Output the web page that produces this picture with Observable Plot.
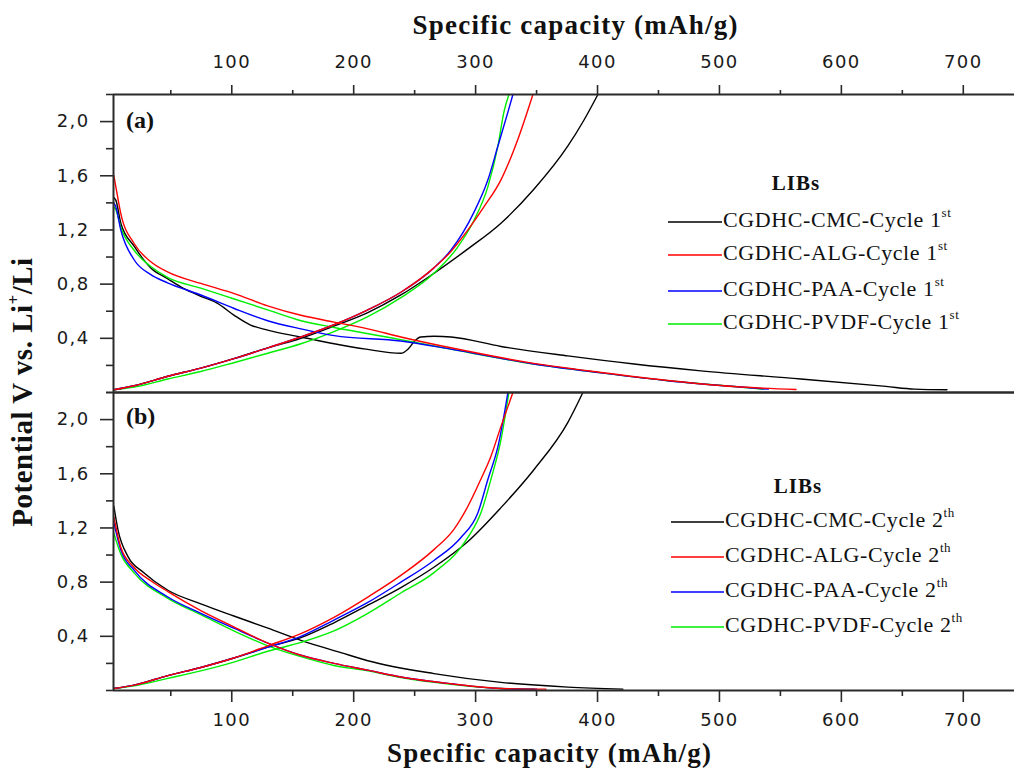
<!DOCTYPE html>
<html>
<head>
<meta charset="utf-8">
<script src="https://cdn.jsdelivr.net/npm/d3@7"></script>
<script src="https://cdn.jsdelivr.net/npm/@observablehq/plot@0.6"></script>
<style>
  html, body { margin: 0; padding: 0; background: #fff; }
  g[aria-label$="tick label"] text { letter-spacing: 1.4px; }
</style>
</head>
<body>
<div id="chart"></div>
<script>
// ---------------- DATA (x: specific capacity mAh/g, y: potential V) ----------------
const seriesNames = ["CMC", "ALG", "PAA", "PVDF"];
const seriesColors = ["#000000", "#ff0000", "#0000ff", "#00ee00"];
const xTicks = [100, 200, 300, 400, 500, 600, 700];
const xMinorTicks = [50, 150, 250, 350, 450, 550, 650];
const yTicks = [0.4, 0.8, 1.2, 1.6, 2.0];
const yMinorTicks = [0, 0.2, 0.6, 1.0, 1.4, 1.8, 2.2];
const panelLabels = ["(a)", "(b)"];
const cycleNums = ["1", "2"];
const cycleSups = ["st", "th"];

// Panel (a) - cycle 1, discharge
const a_CMC_dis = [[3.3,1.44],[4.9,1.42],[9,1.25],[19.9,1.08],[33.6,0.92],[47.3,0.84],[60,0.77],[74.6,0.71],[88,0.66],[102,0.57],[115,0.50],[129.4,0.46],[156.7,0.41],[184,0.36],[210,0.32],[238.7,0.29],[244.5,0.32],[250,0.38],[255,0.41],[266,0.415],[280,0.41],[320.8,0.34],[375.7,0.27],[430,0.21],[484.8,0.16],[566.8,0.10],[636.6,0.045],[660,0.025],[686.6,0.02]];
const a_ALG_dis = [[3.3,1.60],[4.9,1.52],[9,1.32],[19.9,1.10],[33.6,0.965],[47.3,0.89],[74.6,0.805],[102,0.73],[129.4,0.64],[156.7,0.57],[184,0.52],[211.6,0.47],[238.7,0.41],[279.7,0.33],[347.8,0.215],[403,0.148],[457.8,0.089],[512,0.044],[562.8,0.022]];
const a_PAA_dis = [[3.3,1.40],[4.9,1.37],[9,1.20],[19.9,0.98],[33.6,0.87],[47.3,0.81],[74.6,0.72],[102,0.62],[129.4,0.53],[156.7,0.47],[184,0.42],[238.7,0.38],[279.7,0.32],[347.8,0.21],[403,0.145],[457.8,0.087],[512,0.044],[540,0.025]];
const a_PVDF_dis = [[3.3,1.37],[4.9,1.35],[9,1.22],[19.9,1.05],[33.6,0.93],[47.3,0.85],[74.6,0.77],[102,0.69],[129.4,0.61],[156.7,0.53],[184,0.48],[238.7,0.39],[279.7,0.32],[347.8,0.21],[403,0.145],[457.8,0.087],[512,0.044],[536,0.025]];
// Panel (a) - cycle 1, charge
const a_CMC_chg = [[3.3,0.02],[20,0.05],[47.6,0.12],[74.6,0.18],[101.7,0.25],[129.6,0.33],[156.7,0.40],[183.8,0.49],[211.6,0.59],[238.7,0.72],[265.8,0.88],[293.7,1.06],[320.8,1.25],[347.8,1.50],[375.7,1.82],[388.8,2.01],[400.3,2.2]];
const a_ALG_chg = [[3.3,0.02],[20,0.05],[47.6,0.12],[74.6,0.18],[101.7,0.25],[129.6,0.33],[156.7,0.41],[183.8,0.50],[211.6,0.61],[238.7,0.74],[265.8,0.92],[279.7,1.04],[293.7,1.20],[306.8,1.37],[320.8,1.57],[334.7,1.87],[347,2.2]];
const a_PAA_chg = [[3.3,0.02],[20,0.05],[47.6,0.12],[74.6,0.18],[101.7,0.25],[129.6,0.33],[156.7,0.41],[183.8,0.50],[211.6,0.61],[238.7,0.74],[265.8,0.92],[279.7,1.05],[298.6,1.33],[310.1,1.57],[318.3,1.82],[326.5,2.07],[330.6,2.2]];
const a_PVDF_chg = [[3.3,0.02],[20,0.04],[47.6,0.10],[74.6,0.155],[101.7,0.22],[129.6,0.29],[156.7,0.36],[183.8,0.45],[211.6,0.56],[238.7,0.70],[265.8,0.88],[285,1.07],[298.6,1.27],[310.1,1.52],[318.3,1.82],[323.2,2.07],[327.3,2.2]];
// Panel (b) - cycle 2, discharge
const b_CMC_dis = [[3.3,1.36],[6.6,1.19],[14.8,0.99],[27.9,0.87],[47.6,0.74],[74.6,0.64],[101.7,0.55],[129.6,0.46],[156.7,0.37],[189.5,0.28],[211.6,0.22],[265.8,0.125],[320.8,0.06],[375.7,0.025],[420.8,0.01]];
const b_ALG_dis = [[3.3,1.28],[8.9,1.06],[19.7,0.91],[33.6,0.81],[47.6,0.73],[74.6,0.59],[101.7,0.47],[129.6,0.35],[156.7,0.26],[183.8,0.20],[211.6,0.15],[238.7,0.10],[279.7,0.05],[320.8,0.015],[357.7,0.01]];
const b_PAA_dis = [[3.3,1.24],[8.9,1.04],[19.7,0.89],[47.6,0.69],[74.6,0.57],[101.7,0.46],[129.6,0.35],[156.7,0.26],[183.8,0.20],[211.6,0.15],[238.7,0.10],[279.7,0.05],[320.8,0.015],[350,0.01]];
const b_PVDF_dis = [[3.3,1.16],[8.9,1.01],[19.7,0.87],[47.6,0.68],[74.6,0.56],[101.7,0.44],[129.6,0.33],[156.7,0.25],[183.8,0.185],[211.6,0.145],[238.7,0.095],[279.7,0.045],[320.8,0.015],[347.8,0.01]];
// Panel (b) - cycle 2, charge
const b_CMC_chg = [[3.3,0.015],[20,0.04],[47.6,0.11],[74.6,0.17],[101.7,0.24],[129.6,0.32],[156.7,0.39],[183.8,0.50],[211.6,0.63],[238.7,0.76],[265.8,0.91],[293.7,1.10],[320.8,1.35],[347.8,1.63],[375.7,1.98],[388,2.2]];
const b_ALG_chg = [[3.3,0.015],[20,0.04],[47.6,0.11],[74.6,0.17],[101.7,0.24],[129.6,0.33],[156.7,0.42],[183.8,0.54],[211.6,0.69],[238.7,0.85],[265.8,1.04],[282.2,1.19],[293.7,1.36],[304.3,1.56],[312.6,1.73],[320.8,1.95],[330.6,2.2]];
const b_PAA_chg = [[3.3,0.015],[20,0.04],[47.6,0.11],[74.6,0.17],[101.7,0.24],[129.6,0.32],[156.7,0.40],[183.8,0.52],[211.6,0.65],[238.7,0.80],[265.8,0.96],[288,1.13],[301.8,1.31],[310.1,1.56],[318.3,1.80],[326.5,2.2]];
const b_PVDF_chg = [[3.3,0.015],[20,0.035],[47.6,0.09],[74.6,0.145],[101.7,0.21],[129.6,0.29],[156.7,0.355],[183.8,0.44],[211.6,0.57],[238.7,0.72],[265.8,0.87],[293.7,1.13],[304.3,1.31],[312.6,1.56],[320.8,1.85],[327.3,2.2]];

const curves = {
  a: {CMC: [a_CMC_dis, a_CMC_chg], ALG: [a_ALG_dis, a_ALG_chg], PAA: [a_PAA_dis, a_PAA_chg], PVDF: [a_PVDF_dis, a_PVDF_chg]},
  b: {CMC: [b_CMC_dis, b_CMC_chg], ALG: [b_ALG_dis, b_ALG_chg], PAA: [b_PAA_dis, b_PAA_chg], PVDF: [b_PVDF_dis, b_PVDF_chg]}
};

// ---------------- build table ----------------
const rows = [];
for (const panel of ["a", "b"]) {
  for (const s of seriesNames) {
    curves[panel][s].forEach((arr, bi) => {
      for (const [x, y] of arr) rows.push({panel, series: s, branch: bi ? "charge" : "discharge", x, y});
    });
  }
}

const fmt = d => d.toFixed(1).replace(".", ",");
const axisColor = "#2a2a2a";
const drawOrder = ["CMC", "PVDF", "PAA", "ALG"];

const lineMarks = drawOrder.map(s => Plot.line(rows.filter(r => r.series === s), {
  x: "x", y: "y", z: d => d.panel + d.branch, fy: "panel",
  stroke: seriesColors[seriesNames.indexOf(s)], strokeWidth: 1.4, curve: "monotone-x"
}));

const chart = Plot.plot({
  width: 1014,
  height: 769,
  marginTop: 94,
  marginBottom: 79,
  marginLeft: 113,
  marginRight: 0,
  style: {fontFamily: "'DejaVu Sans', sans-serif", fontSize: "18px", color: "#1a1a1a", background: "#fff"},
  x: {domain: [3, 742]},
  y: {domain: [0, 2.2]},
  fy: {domain: ["a", "b"], padding: 0, axis: null},
  marks: [
    ...lineMarks,
    Plot.axisX({anchor: "top", ticks: xTicks, tickSize: 10, tickPadding: 17, label: null, fontSize: 18, stroke: axisColor, strokeWidth: 1.6}),
    Plot.axisX({anchor: "top", ticks: xMinorTicks, tickSize: 5, tickFormat: () => "", label: null, stroke: axisColor, strokeWidth: 1.6}),
    Plot.axisX({anchor: "bottom", ticks: xTicks, tickSize: 12, tickPadding: 11, label: null, fontSize: 18, stroke: axisColor, strokeWidth: 1.6}),
    Plot.axisX({anchor: "bottom", ticks: xMinorTicks, tickSize: 6, tickFormat: () => "", label: null, stroke: axisColor, strokeWidth: 1.6}),
    Plot.axisY({anchor: "left", ticks: yTicks, tickSize: 13, tickPadding: 11, tickFormat: fmt, label: null, fontSize: 18, stroke: axisColor, strokeWidth: 1.6}),
    Plot.axisY({anchor: "left", ticks: yMinorTicks, tickSize: 7, tickFormat: () => "", label: null, stroke: axisColor, strokeWidth: 1.6}),
    Plot.ruleX([3], {stroke: axisColor, strokeWidth: 2}),
    Plot.ruleY([0, 2.2], {stroke: axisColor, strokeWidth: 2})
  ]
});

document.getElementById("chart").appendChild(chart);

// ---------------- annotations ----------------
const svg = d3.select(chart);
const ann = svg.append("g").attr("font-family", "'Liberation Serif', 'Times New Roman', serif")
  .attr("fill", "#111").attr("text-anchor", "start");

const xTitle = "Specific capacity (mAh/g)";
ann.append("text").attr("x", 575).attr("y", 28).attr("text-anchor", "middle").attr("dominant-baseline", "middle")
  .attr("font-weight", "bold").attr("font-size", 27).attr("textLength", 325).attr("lengthAdjust", "spacing").text(xTitle);
ann.append("text").attr("x", 549).attr("y", 756).attr("text-anchor", "middle").attr("dominant-baseline", "middle")
  .attr("font-weight", "bold").attr("font-size", 27).attr("textLength", 324).attr("lengthAdjust", "spacing").text(xTitle);

const yt = ann.append("text").attr("transform", "translate(25,392) rotate(-90)").attr("text-anchor", "middle")
  .attr("dominant-baseline", "middle").attr("font-weight", "bold").attr("font-size", 29).attr("letter-spacing", 0.5);
yt.append("tspan").text("Potential V vs. Li");
yt.append("tspan").attr("dy", -10).attr("font-size", 17).text("+");
yt.append("tspan").attr("dy", 10).text("/Li");

// panel labels
const panelLabelY = [122, 418];
panelLabels.forEach((t, i) => {
  ann.append("text").attr("x", 126).attr("y", panelLabelY[i]).attr("dominant-baseline", "middle")
    .attr("text-anchor", "start").attr("font-weight", "bold").attr("font-size", 24).text(t);
});

// legends
const legendCfg = [
  {titleX: 796, titleY: 185, rowsY: [222, 255, 291, 324], x1: 668, x2: 722},
  {titleX: 798, titleY: 488, rowsY: [522, 557, 592, 627], x1: 671, x2: 724}
];
legendCfg.forEach((cfg, p) => {
  const g = ann.append("g");
  g.append("text").attr("x", cfg.titleX).attr("y", cfg.titleY).attr("text-anchor", "middle").attr("dominant-baseline", "middle")
    .attr("font-weight", "bold").attr("font-size", 21).attr("letter-spacing", 1).text("LIBs");
  seriesNames.forEach((s, i) => {
    const y = cfg.rowsY[i];
    g.append("line").attr("x1", cfg.x1).attr("x2", cfg.x2).attr("y1", y).attr("y2", y)
      .attr("stroke", seriesColors[i]).attr("stroke-width", 1.6);
    const t = g.append("text").attr("x", cfg.x2 + 1).attr("y", y).attr("dominant-baseline", "middle")
      .attr("text-anchor", "start").attr("font-size", 22).attr("letter-spacing", 0.6);
    t.append("tspan").text(`CGDHC-${s}-Cycle ${cycleNums[p]}`);
    t.append("tspan").attr("dy", -8).attr("font-size", 13).text(cycleSups[p]);
  });
});
</script>
</body>
</html>
